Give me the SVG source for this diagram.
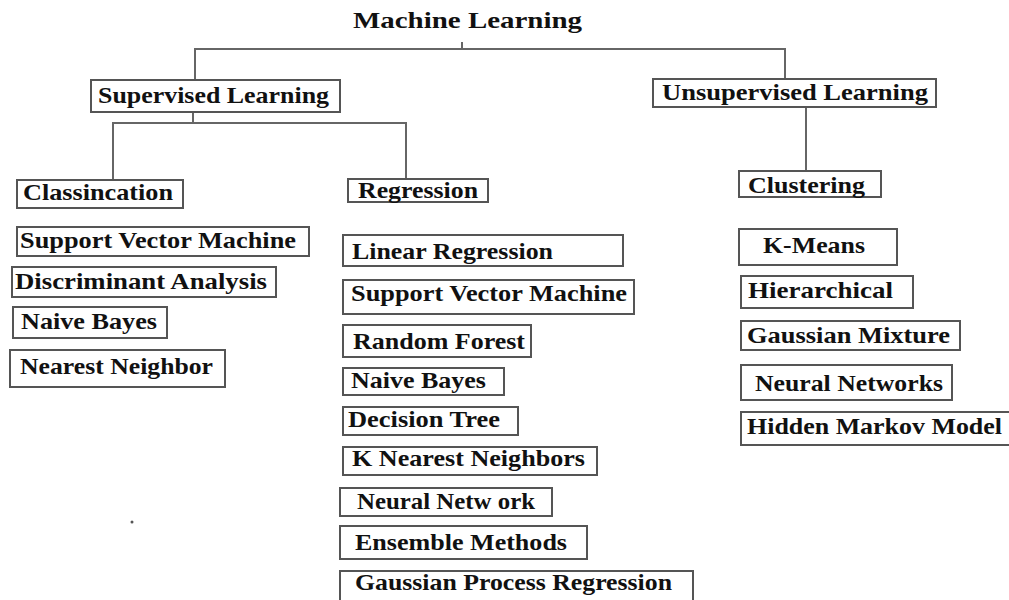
<svg xmlns="http://www.w3.org/2000/svg" width="1009" height="600" viewBox="0 0 1009 600">
<style>
.bx{fill:#fff;stroke:#555;stroke-width:2}
.t{font-family:"Liberation Serif","Times New Roman",serif;font-weight:bold;font-size:23px;fill:#111}
.ln{fill:none;stroke:#666;stroke-width:2}
</style>
<rect width="1009" height="600" fill="#fff"/>
<g id="connectors">
<path class="ln" d="M195,80 V49 H785 V79"/>
<path class="ln" d="M462,42 V49"/>
<path class="ln" d="M193,112 V123"/>
<path class="ln" d="M113,180 V123 H406 V180"/>
<path class="ln" d="M806,107 V171"/>
</g>
<g id="machine-learning"><text class="t" x="353" y="28" textLength="229" lengthAdjust="spacingAndGlyphs">Machine Learning</text></g>
<g id="supervised"><rect class="bx" x="91" y="80" width="249" height="32"/><text class="t" x="98" y="103" textLength="231" lengthAdjust="spacingAndGlyphs">Supervised Learning</text></g>
<g id="unsupervised"><rect class="bx" x="653" y="79" width="283" height="28"/><text class="t" x="662" y="100" textLength="266" lengthAdjust="spacingAndGlyphs">Unsupervised  Learning</text></g>
<g id="classification"><rect class="bx" x="17" y="180" width="166" height="28"/><text class="t" x="23" y="200" textLength="150" lengthAdjust="spacingAndGlyphs">Classincation</text></g>
<g id="regression"><rect class="bx" x="348" y="179" width="140" height="23"/><text class="t" x="358" y="198" textLength="120" lengthAdjust="spacingAndGlyphs">Regression</text></g>
<g id="clustering"><rect class="bx" x="739" y="171" width="142" height="26"/><text class="t" x="748" y="193" textLength="117" lengthAdjust="spacingAndGlyphs">Clustering</text></g>
<g id="c-svm"><rect class="bx" x="17" y="227" width="292" height="29"/><text class="t" x="20" y="248" textLength="276" lengthAdjust="spacingAndGlyphs">Support Vector Machine</text></g>
<g id="c-da"><rect class="bx" x="12" y="267" width="264" height="30"/><text class="t" x="15" y="289" textLength="252" lengthAdjust="spacingAndGlyphs">Discriminant Analysis</text></g>
<g id="c-nb"><rect class="bx" x="13" y="307" width="154" height="31"/><text class="t" x="21" y="329" textLength="136" lengthAdjust="spacingAndGlyphs">Naive Bayes</text></g>
<g id="c-nn"><rect class="bx" x="10" y="350" width="215" height="37"/><text class="t" x="20" y="374" textLength="193" lengthAdjust="spacingAndGlyphs">Nearest Neighbor</text></g>
<g id="r-lr"><rect class="bx" x="343" y="235" width="280" height="31"/><text class="t" x="352" y="259" textLength="201" lengthAdjust="spacingAndGlyphs">Linear Regression</text></g>
<g id="r-svm"><rect class="bx" x="343" y="280" width="291" height="34"/><text class="t" x="351" y="301" textLength="276" lengthAdjust="spacingAndGlyphs">Support Vector Machine</text></g>
<g id="r-rf"><rect class="bx" x="343" y="325" width="188" height="32"/><text class="t" x="353" y="349" textLength="172" lengthAdjust="spacingAndGlyphs">Random Forest</text></g>
<g id="r-nb"><rect class="bx" x="343" y="368" width="161" height="27"/><text class="t" x="351" y="388" textLength="135" lengthAdjust="spacingAndGlyphs">Naive Bayes</text></g>
<g id="r-dt"><rect class="bx" x="343" y="407" width="175" height="28"/><text class="t" x="348" y="427" textLength="152" lengthAdjust="spacingAndGlyphs">Decision Tree</text></g>
<g id="r-knn"><rect class="bx" x="343" y="447" width="254" height="28"/><text class="t" x="352" y="466" textLength="233" lengthAdjust="spacingAndGlyphs">K Nearest Neighbors</text></g>
<g id="r-nnet"><rect class="bx" x="340" y="488" width="212" height="28"/><text class="t" x="357" y="509" textLength="178" lengthAdjust="spacingAndGlyphs">Neural Netw ork</text></g>
<g id="r-em"><rect class="bx" x="340" y="526" width="247" height="33"/><text class="t" x="355" y="550" textLength="212" lengthAdjust="spacingAndGlyphs">Ensemble Methods</text></g>
<g id="r-gpr"><rect class="bx" x="340" y="571" width="353" height="31"/><text class="t" x="355" y="590" textLength="317" lengthAdjust="spacingAndGlyphs">Gaussian Process Regression</text></g>
<g id="u-km"><rect class="bx" x="739" y="229" width="158" height="36"/><text class="t" x="763" y="253" textLength="102" lengthAdjust="spacingAndGlyphs">K-Means</text></g>
<g id="u-h"><rect class="bx" x="741" y="276" width="172" height="32"/><text class="t" x="748" y="298" textLength="145" lengthAdjust="spacingAndGlyphs">Hierarchical</text></g>
<g id="u-gm"><rect class="bx" x="741" y="321" width="219" height="29"/><text class="t" x="747" y="343" textLength="203" lengthAdjust="spacingAndGlyphs">Gaussian Mixture</text></g>
<g id="u-nn"><rect class="bx" x="741" y="365" width="211" height="35"/><text class="t" x="755" y="391" textLength="188" lengthAdjust="spacingAndGlyphs">Neural Networks</text></g>
<g id="u-hmm"><rect class="bx" x="741" y="412" width="275" height="33"/><text class="t" x="747" y="434" textLength="255" lengthAdjust="spacingAndGlyphs">Hidden Markov Model</text></g>
<circle cx="132" cy="522" r="1.5" fill="#555"/>
</svg>
